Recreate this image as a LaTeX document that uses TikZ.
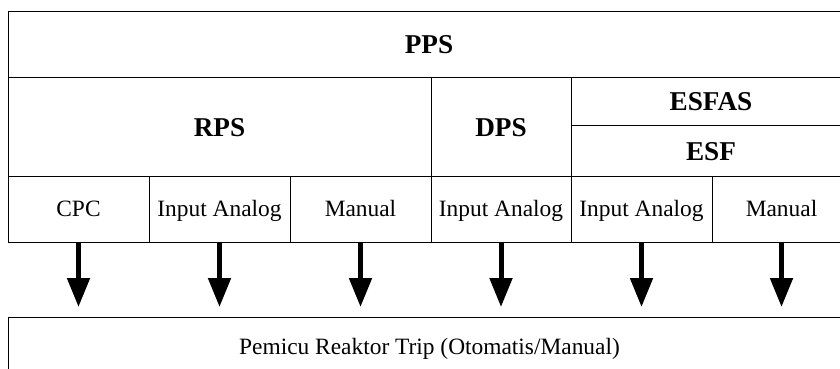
\documentclass[tikz,border=0pt]{standalone}
\usepackage{fontspec}
\setmainfont{Liberation Serif}
\usetikzlibrary{arrows.meta}

\begin{document}
\begin{tikzpicture}[x=0.5pt,y=-0.5pt,
    cell/.style={draw,line width=0.5pt,inner sep=0pt,outer sep=0pt,text height=7.7pt,text depth=0pt,font=\fontsize{11.7}{14}\selectfont},
    head/.style={cell,text height=9pt,font=\fontsize{13.6}{15}\selectfont\bfseries},
    down/.style={-{Triangle[length=14.5pt,width=11pt]},line width=2.5pt,shorten >=5pt}
]
\clip (0,0) rectangle (840,369);

\node[head,minimum width=421pt,minimum height=33pt] (pps) at (429,45) {PPS};

\node[head,minimum width=211.5pt,minimum height=49pt] (rps) at (219.5,127) {RPS};
\node[head,minimum width=70pt,minimum height=49pt] (dps) at (501,127) {DPS};
\node[head,minimum width=140pt,minimum height=24pt] (esfas) at (711,102) {ESFAS};
\node[head,minimum width=140pt,minimum height=25pt] (esf) at (711,151) {ESF};

\node[cell,minimum width=70.5pt,minimum height=33pt] (cpc) at (78.5,209) {CPC};
\node[cell,minimum width=70.5pt,minimum height=33pt] (rpsai) at (219.5,209) {Input Analog};
\node[cell,minimum width=70.5pt,minimum height=33pt] (rpsman) at (360.5,209) {Manual};
\node[cell,minimum width=70pt,minimum height=33pt] (dpsai) at (501,209) {Input Analog};
\node[cell,minimum width=70.5pt,minimum height=33pt] (esfai) at (641.5,209) {Input Analog};
\node[cell,minimum width=69.5pt,minimum height=33pt] (esfman) at (781.5,209) {Manual};

\node[cell,minimum width=421.5pt,minimum height=30pt] (trip) at (429.5,347) {Pemicu Reaktor Trip (Otomatis/Manual)};

\draw[down] (cpc.south) -- (cpc.south |- trip.north);
\draw[down] (rpsai.south) -- (rpsai.south |- trip.north);
\draw[down] (rpsman.south) -- (rpsman.south |- trip.north);
\draw[down] (dpsai.south) -- (dpsai.south |- trip.north);
\draw[down] (esfai.south) -- (esfai.south |- trip.north);
\draw[down] (esfman.south) -- (esfman.south |- trip.north);
\end{tikzpicture}
\end{document}
